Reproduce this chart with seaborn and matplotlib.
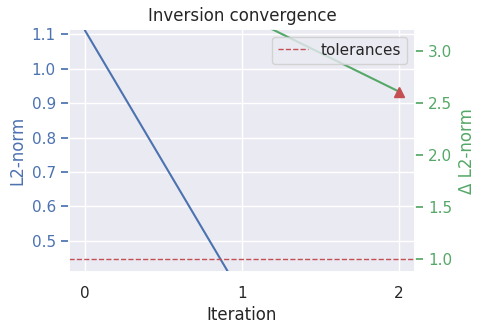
import matplotlib
matplotlib.use("Agg")
import matplotlib.pyplot as plt
from matplotlib.ticker import MultipleLocator
import seaborn as sns
import pandas as pd

sns.set_theme(style="darkgrid", context="notebook")

iterations = [0, 1, 2]
l2_norm = [1.112, 0.342, 0.15]
delta_iterations = [1, 2]
delta_l2_norm = [3.348, 2.607]
tolerance = 1.0
x_ticks = [0, 1, 2]

df = pd.DataFrame({"Iteration": iterations, "L2-norm": l2_norm})
ddf = pd.DataFrame({"Iteration": delta_iterations, "dL2": delta_l2_norm})

fig = plt.figure(figsize=(4.83, 3.33), dpi=100)
ax1 = fig.add_axes([0.1429, 0.1822, 0.8590 - 0.1429, 0.9129 - 0.1822])
sns.lineplot(data=df, x="Iteration", y="L2-norm", color="b", ax=ax1)
ax1.set_ylim(0.409, 1.115)
ax1.yaxis.set_major_locator(MultipleLocator(0.1))
ax1.set_xlim(-0.1, 2.1)
ax1.set_xticks(x_ticks)
ax1.set_ylabel("L2-norm", color="b")
ax1.tick_params(axis="y", colors="b")
ax1.set_xlabel("Iteration")
ax1.set_title("Inversion convergence", fontsize=12)

ax2 = ax1.twinx()
sns.lineplot(data=ddf, x="Iteration", y="dL2", color="g", ax=ax2)
ax2.plot(delta_iterations[-1:], delta_l2_norm[-1:], "^", color="r", markersize=7)
ax2.axhline(tolerance, color="r", linestyle="--", linewidth=1, label="tolerances")
ax2.set_ylim(0.875, 3.208)
ax2.grid(False)
ax2.set_ylabel("Δ L2-norm", color="g")
ax2.tick_params(axis="y", colors="g")
ax2.legend(loc="upper right")

fig.savefig("out.png", dpi=100)
